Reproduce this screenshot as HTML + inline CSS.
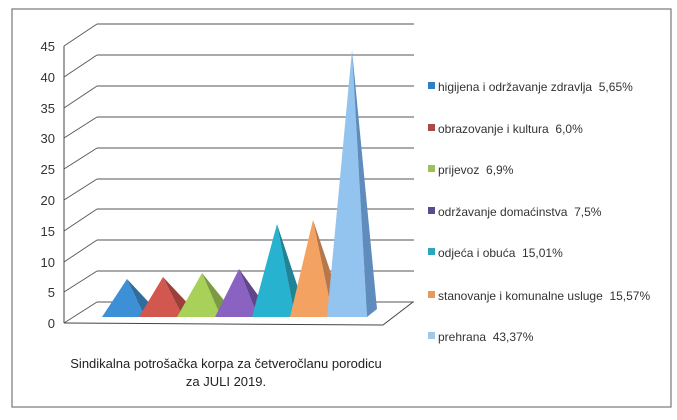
<!DOCTYPE html>
<html><head><meta charset="utf-8"><style>
body{margin:0;background:#fff;}
svg{display:block;font-family:"Liberation Sans","DejaVu Sans",sans-serif;}
</style></head><body>
<svg width="677" height="420" viewBox="0 0 677 420" xmlns="http://www.w3.org/2000/svg">
<rect x="0" y="0" width="677" height="420" fill="#fff"/>
<rect x="12" y="9" width="659" height="398" fill="none" stroke="#777" stroke-width="1.2"/>
<g stroke="#444" stroke-width="1" fill="none">
<line x1="64" y1="46" x2="64" y2="323"/>
<polyline points="64,323 383,325 413,302"/>
</g>
<g stroke="#555" stroke-width="0.9">
<line x1="97" y1="24" x2="414" y2="24"/><line x1="64" y1="46" x2="97" y2="24"/>
<line x1="97" y1="55" x2="414" y2="55"/><line x1="64" y1="77" x2="97" y2="55"/>
<line x1="97" y1="86" x2="414" y2="86"/><line x1="64" y1="108" x2="97" y2="86"/>
<line x1="97" y1="117" x2="414" y2="117"/><line x1="64" y1="138" x2="97" y2="117"/>
<line x1="97" y1="148" x2="414" y2="148"/><line x1="64" y1="169" x2="97" y2="148"/>
<line x1="97" y1="179" x2="414" y2="179"/><line x1="64" y1="200" x2="97" y2="179"/>
<line x1="97" y1="209" x2="414" y2="209"/><line x1="64" y1="231" x2="97" y2="209"/>
<line x1="97" y1="240" x2="414" y2="240"/><line x1="64" y1="262" x2="97" y2="240"/>
<line x1="97" y1="271" x2="414" y2="271"/><line x1="64" y1="292" x2="97" y2="271"/>
<line x1="97" y1="302" x2="414" y2="302"/><line x1="64" y1="323" x2="97" y2="302"/>
</g>
<g font-size="13" fill="#333" text-anchor="end">
<text x="55" y="51">45</text><text x="55" y="82">40</text><text x="55" y="113">35</text>
<text x="55" y="143">30</text><text x="55" y="174">25</text><text x="55" y="205">20</text>
<text x="55" y="236">15</text><text x="55" y="267">10</text><text x="55" y="297">5</text>
<text x="55" y="328">0</text>
</g>
<g>
<polygon points="102,317 145,317 127,279" fill="#3d8fd6"/><polygon points="145,317 155,309 127,279" fill="#2f6d9e"/>
<polygon points="139,317 183,317 163,277" fill="#d2574f"/><polygon points="183,317 193,309 163,277" fill="#9c3f3a"/>
<polygon points="177,317 221,317 202,273" fill="#a8d15a"/><polygon points="221,317 231,309 202,273" fill="#7c9a42"/>
<polygon points="215,317 258,317 239,269" fill="#8a63c2"/><polygon points="258,317 268,309 239,269" fill="#62468c"/>
<polygon points="252,317 295,317 277,224" fill="#27b3cf"/><polygon points="295,317 305,309 277,224" fill="#1f8496"/>
<polygon points="290,317 333,317 313,220" fill="#f4a261"/><polygon points="333,317 343,309 313,220" fill="#b6774a"/>
<polygon points="327,317 367,317 352,50" fill="#93c3ef"/><polygon points="367,317 377,309 352,50" fill="#5f8cbc"/>
</g>
<g font-size="12" fill="#333">
<rect x="428" y="82" width="7" height="7" fill="#2e7fc4"/><text x="438" y="91">higijena i održavanje zdravlja&#160;&#160;5,65%</text>
<rect x="428" y="124" width="7" height="7" fill="#a84a45"/><text x="438" y="133">obrazovanje i kultura&#160;&#160;6,0%</text>
<rect x="428" y="165" width="7" height="7" fill="#9bc258"/><text x="438" y="174">prijevoz&#160;&#160;6,9%</text>
<rect x="428" y="207" width="7" height="7" fill="#5a4b8c"/><text x="438" y="216">održavanje domaćinstva&#160;&#160;7,5%</text>
<rect x="428" y="248" width="7" height="7" fill="#2aa7bd"/><text x="438" y="257">odjeća i obuća&#160;&#160;15,01%</text>
<rect x="428" y="291" width="7" height="7" fill="#e89a5c"/><text x="438" y="300">stanovanje i komunalne usluge&#160;&#160;15,57%</text>
<rect x="428" y="332" width="7" height="7" fill="#9cc9f0"/><text x="438" y="341">prehrana&#160;&#160;43,37%</text>
</g>
<g font-size="13" fill="#222" text-anchor="middle">
<text x="226" y="368">Sindikalna potrošačka korpa za četveročlanu porodicu</text>
<text x="226" y="386">za JULI 2019.</text>
</g>
</svg>
</body></html>
